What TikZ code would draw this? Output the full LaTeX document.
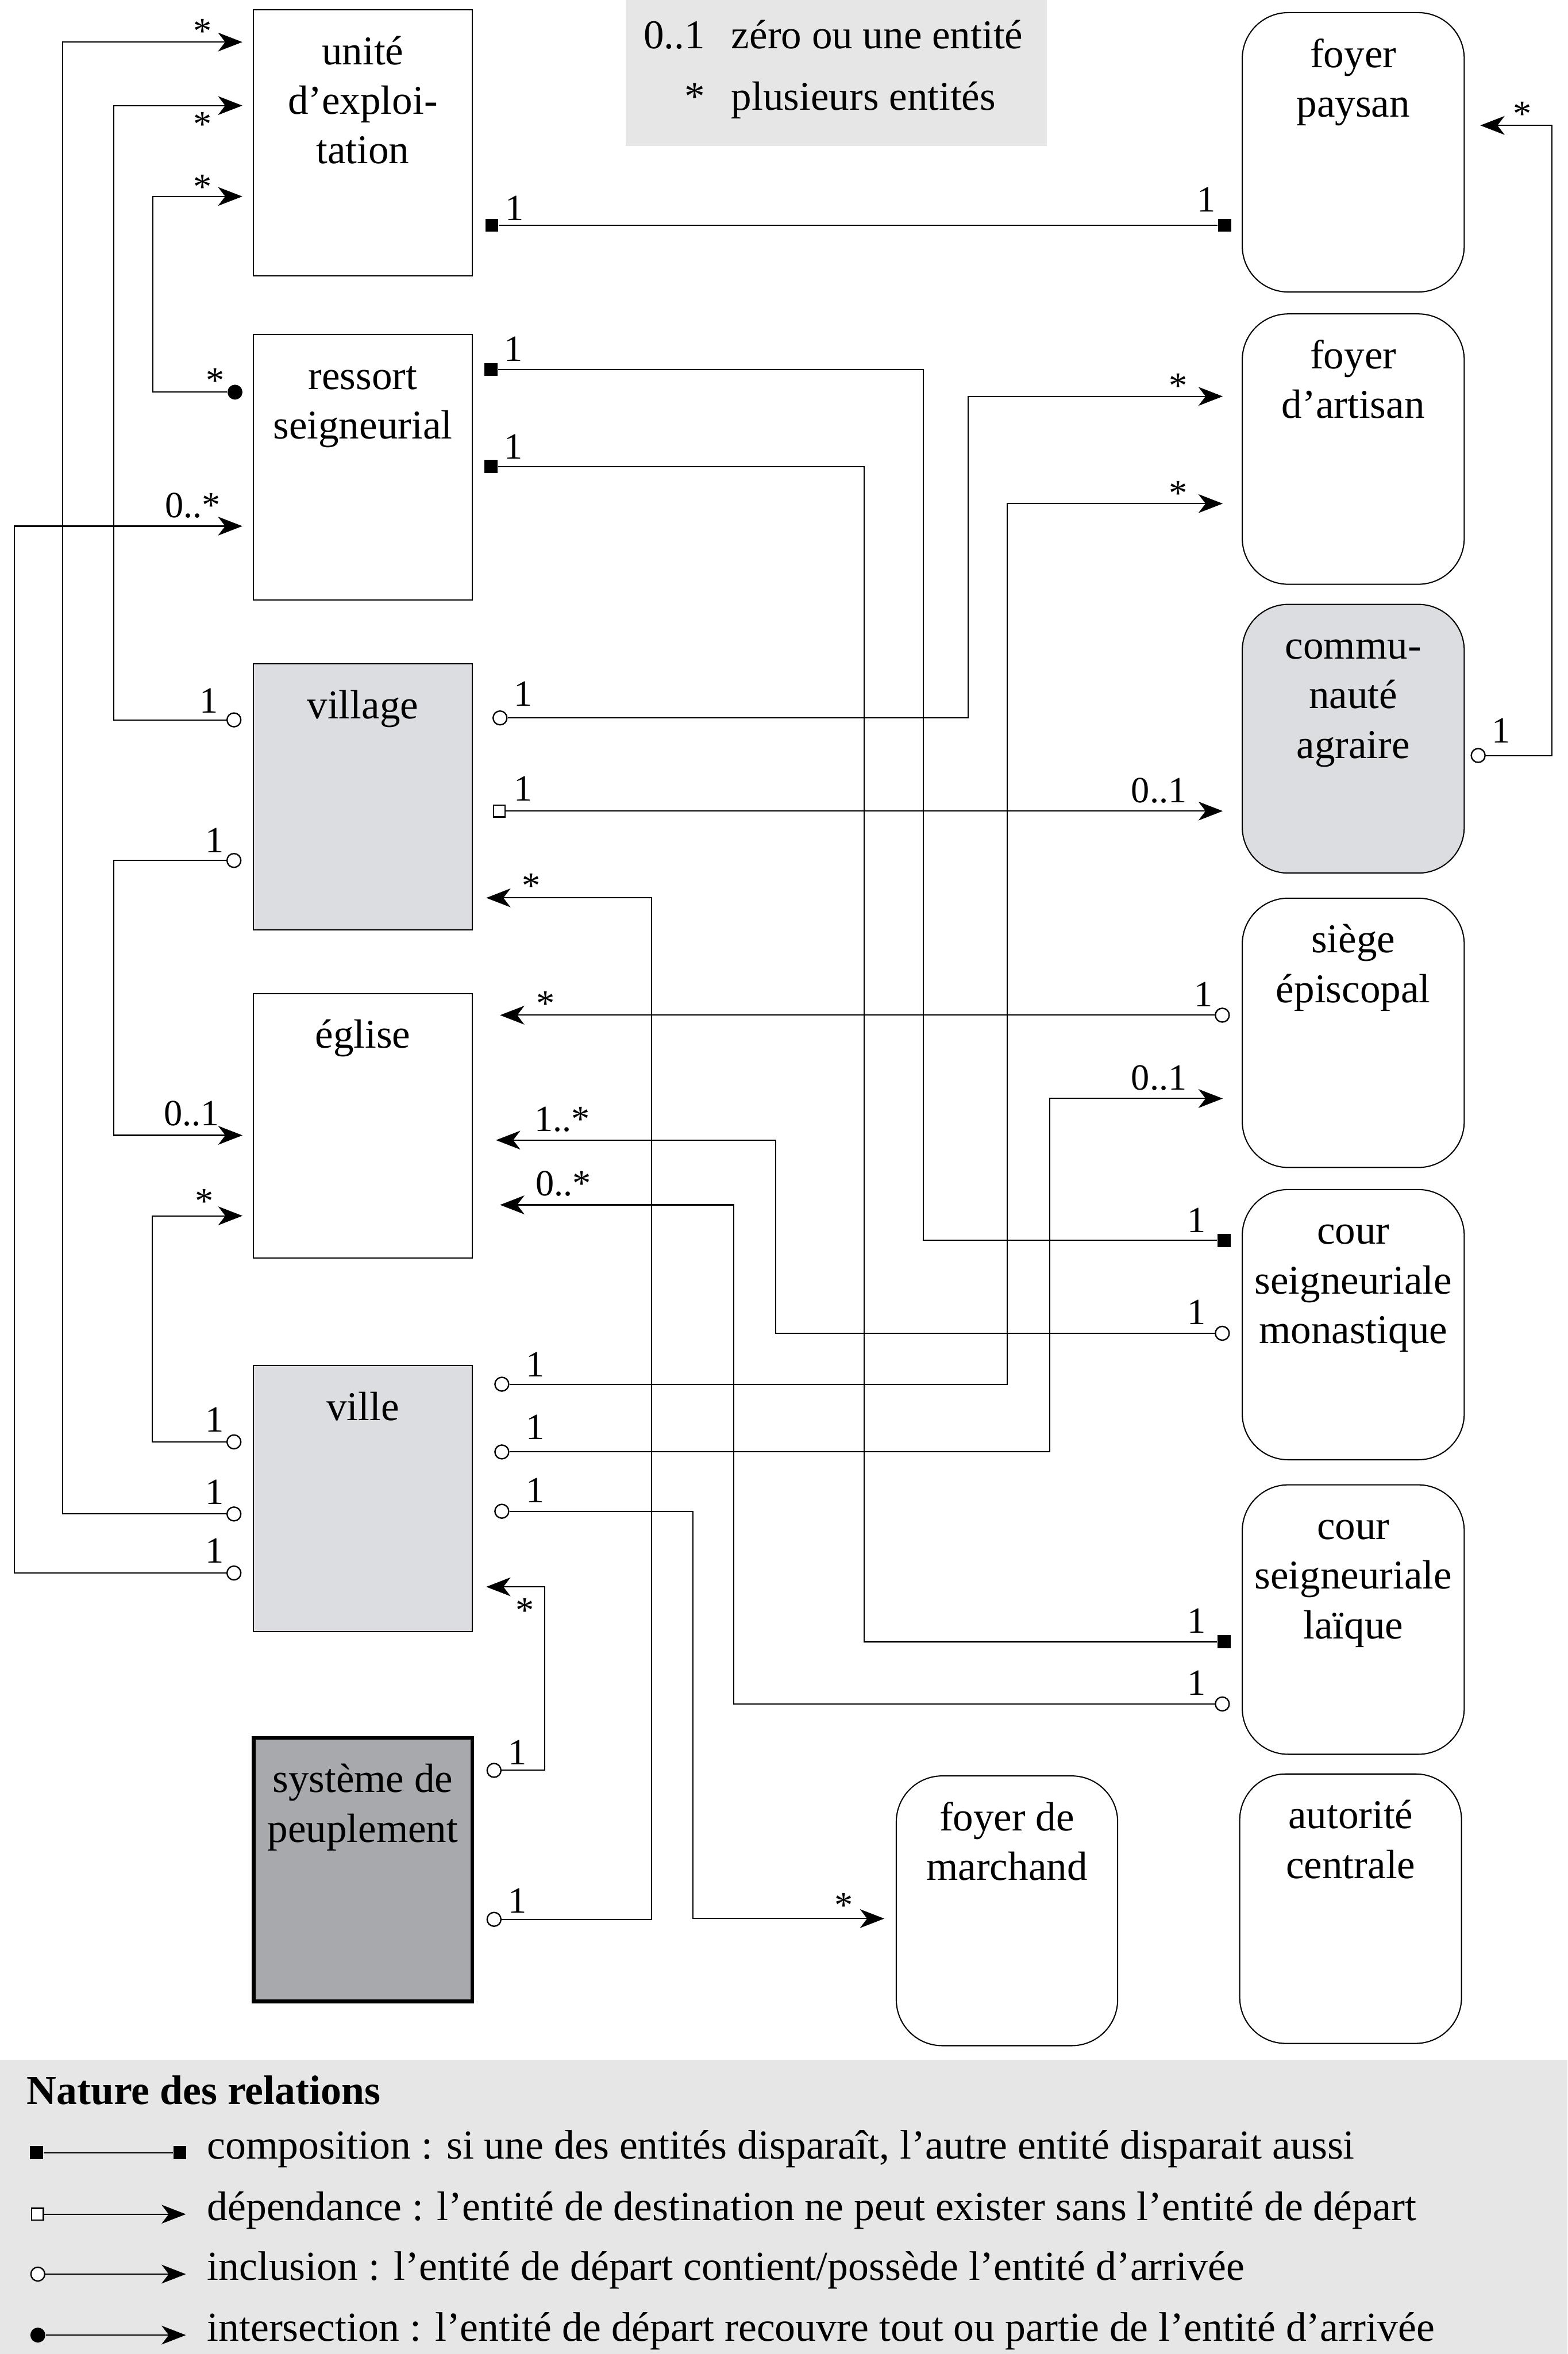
\documentclass[tikz,border=0pt]{standalone}
\usepackage{fontspec}
\setmainfont{Liberation Serif}
\usetikzlibrary{arrows.meta,fit}
\definecolor{lgray}{RGB}{220,221,224}
\definecolor{dgray}{RGB}{167,169,172}
\definecolor{leggray}{RGB}{230,230,230}
\newcommand\bigfont{\fontsize{21}{25.45}\selectfont}
\newcommand\legfont{\fontsize{21.2}{25.45}\selectfont}
\newcommand\labfont{\fontsize{19}{22}\selectfont}
\newcommand\topgap{\rule{0pt}{0.977cm}}
\begin{document}
\begin{tikzpicture}[x=0.027136cm,y=-0.027136cm,
 line width=0.6pt,
 panel/.style={fill=leggray, draw=none, inner sep=0},
 sqbox/.style={draw, line width=0.6pt, inner sep=0},
 rbox/.style={draw, line width=0.6pt, inner sep=0, rounded corners=0.83cm},
 boxtext/.style={font=\bigfont, align=center, anchor=north, inner sep=0},
 lab/.style={font=\labfont, inner sep=0},
 labl/.style={lab, anchor=base east},
 labr/.style={lab, anchor=base west},
 legtxt/.style={font=\legfont, inner sep=0, anchor=base west},
 compsq/.style={rectangle, fill=black, minimum size=0.235cm, inner sep=0},
 depsq/.style={rectangle, draw, fill=white, minimum size=0.21cm, inner sep=0, line width=0.7pt},
 inclc/.style={circle, draw, fill=white, minimum size=0.25cm, inner sep=0, line width=0.7pt},
 interc/.style={circle, fill=black, minimum size=0.27cm, inner sep=0},
 conn/.style={line width=0.6pt},
 arr/.style={conn, -{Stealth[length=0.44cm, width=0.34cm, inset=0.13cm]}},
]
\useasboundingbox (0,0) rectangle (1044,1567.3);

% legend panels
\node[panel, fit={(416.6,0)(697.3,97)}] (keypanel) {};
\node[panel, fit={(0,1371.5)(1044,1567.3)}] (legpanel) {};

% top key
\node[font=\bigfont, inner sep=0, anchor=base east] (k1a) at (469.8,32.2) {0..1};
\node[font=\bigfont, inner sep=0, anchor=base west] (k1b) at (486.7,32.2) {zéro ou une entité};
\node[font=\bigfont, inner sep=0, anchor=base east] (k2a) at (469.8,73.3) {*};
\node[font=\bigfont, inner sep=0, anchor=base west] (k2b) at (486.7,73.3) {plusieurs entités};

% left column boxes
\node[sqbox, fit={(168.6,6.5)(314.6,183.5)}] (unite) {};
\node[sqbox, fit={(168.6,222.8)(314.6,399.4)}] (ressort) {};
\node[sqbox, fill=lgray, fit={(168.6,442)(314.6,619.1)}] (village) {};
\node[sqbox, fit={(168.6,661.4)(314.6,837.6)}] (eglise) {};
\node[sqbox, fill=lgray, fit={(168.6,909.1)(314.6,1086.4)}] (ville) {};
\node[sqbox, fill=dgray, line width=1.9pt, fit={(169,1157)(314.6,1332.5)}] (systeme) {};

\node[boxtext] (unite-t) at (241.6,6.5) {\topgap unité\\d’exploi-\\tation};
\node[boxtext] (ressort-t) at (241.6,222.8) {\topgap ressort\\seigneurial};
\node[boxtext] (village-t) at (241.6,442) {\topgap village};
\node[boxtext] (eglise-t) at (241.6,661.4) {\topgap église};
\node[boxtext] (ville-t) at (241.6,909.1) {\topgap ville};
\node[boxtext] (systeme-t) at (241.6,1157) {\topgap système de\\peuplement};

% right column boxes
\node[rbox, fit={(827.3,8.4)(975.1,194.4)}] (fpaysan) {};
\node[rbox, fit={(827.3,209)(975.1,389)}] (fartisan) {};
\node[rbox, fill=lgray, fit={(827.3,402.4)(975.1,581.3)}] (commu) {};
\node[rbox, fit={(827.3,598)(975.1,777.3)}] (siege) {};
\node[rbox, fit={(827.3,792)(975.1,971.9)}] (monast) {};
\node[rbox, fit={(827.3,988.6)(975.1,1168)}] (laique) {};
\node[rbox, fit={(825.6,1181.1)(973.3,1360.5)}] (autorite) {};
\node[rbox, fit={(596.9,1182.4)(744.3,1362)}] (marchand) {};

\node[boxtext] (fpaysan-t) at (901.2,8.4) {\topgap foyer\\paysan};
\node[boxtext] (fartisan-t) at (901.2,209) {\topgap foyer\\d’artisan};
\node[boxtext] (commu-t) at (901.2,402.4) {\topgap commu-\\nauté\\agraire};
\node[boxtext] (siege-t) at (901.2,598) {\topgap siège\\épiscopal};
\node[boxtext] (monast-t) at (901.2,792) {\topgap cour\\seigneuriale\\monastique};
\node[boxtext] (laique-t) at (901.2,988.6) {\topgap cour\\seigneuriale\\laïque};
\node[boxtext] (autorite-t) at (899.5,1181.1) {\topgap autorité\\centrale};
\node[boxtext] (marchand-t) at (670.6,1182.4) {\topgap foyer de\\marchand};

% markers
\node[interc] (ress_l) at (156.5,261.1) {};
\node[inclc] (vil_l1) at (155.8,479.3) {};
\node[inclc] (vil_l2) at (155.8,572.9) {};
\node[inclc] (vle_l1) at (155.8,960) {};
\node[inclc] (vle_l2) at (155.8,1008) {};
\node[inclc] (vle_l3) at (155.8,1047.3) {};
\node[compsq] (un_r) at (327.5,150) {};
\node[compsq] (ress_r1) at (327,246.1) {};
\node[compsq] (ress_r2) at (327,310.6) {};
\node[inclc] (vil_r) at (333,478) {};
\node[depsq] (vil_rs) at (332.5,540) {};
\node[inclc] (vle_r1) at (334.2,921.6) {};
\node[inclc] (vle_r2) at (334.2,966.7) {};
\node[inclc] (vle_r3) at (334.2,1006.2) {};
\node[inclc] (sys_r1) at (329,1178.7) {};
\node[inclc] (sys_r2) at (329,1277.9) {};
\node[compsq] (fp_l) at (815.5,150) {};
\node[inclc] (ca_r) at (984.4,503) {};
\node[inclc] (se_l) at (814,675.9) {};
\node[compsq] (mo_l) at (815.3,825.9) {};
\node[inclc] (mo_l2) at (814,887.7) {};
\node[compsq] (la_l) at (815.3,1093) {};
\node[inclc] (la_l2) at (814,1134.5) {};

% arrow tip coordinates
\coordinate (t_un1) at (161.4,28);
\coordinate (t_un2) at (161.4,70.3);
\coordinate (t_un3) at (161.4,130.8);
\coordinate (t_res) at (161.4,350.3);
\coordinate (t_eg1) at (161.5,755.9);
\coordinate (t_eg2) at (161.5,809.5);
\coordinate (t_vil) at (323.8,597.8);
\coordinate (t_eg3) at (333,675.9);
\coordinate (t_eg4) at (330.3,759.1);
\coordinate (t_eg5) at (333,802.2);
\coordinate (t_vle) at (323.8,1056.5);
\coordinate (t_fa1) at (814.3,263.9);
\coordinate (t_fa2) at (814.3,335.3);
\coordinate (t_ca) at (814.3,540);
\coordinate (t_se) at (814.3,731.4);
\coordinate (t_fp) at (985.8,83.5);
\coordinate (t_fm) at (588.9,1277.4);

% connectors
\draw[arr] (vle_l2) -- (41.7,1008) -- (41.7,28) -- (t_un1);
\draw[arr] (vil_l1) -- (75.6,479.3) -- (75.6,70.3) -- (t_un2);
\draw[arr] (ress_l) -- (101.8,261.1) -- (101.8,130.8) -- (t_un3);
\draw[arr] (vle_l3) -- (9.5,1047.3) -- (9.5,350.3) -- (t_res);
\draw[arr] (vil_l2) -- (75.6,572.9) -- (75.6,755.9) -- (t_eg1);
\draw[arr] (vle_l1) -- (101.5,960) -- (101.5,809.5) -- (t_eg2);
\draw[conn] (un_r) -- (fp_l);
\draw[conn] (ress_r1) -- (615,246.1) -- (615,825.9) -- (mo_l);
\draw[conn] (ress_r2) -- (575.5,310.6) -- (575.5,1093) -- (la_l);
\draw[arr] (vil_r) -- (644.9,478) -- (644.9,263.9) -- (t_fa1);
\draw[arr] (vil_rs) -- (t_ca);
\draw[arr] (sys_r2) -- (434,1277.9) -- (434,597.8) -- (t_vil);
\draw[arr] (se_l) -- (t_eg3);
\draw[arr] (vle_r2) -- (699.2,966.7) -- (699.2,731.4) -- (t_se);
\draw[arr] (mo_l2) -- (516.6,887.7) -- (516.6,759.1) -- (t_eg4);
\draw[arr] (la_l2) -- (488.6,1134.5) -- (488.6,802.2) -- (t_eg5);
\draw[arr] (vle_r1) -- (670.9,921.6) -- (670.9,335.3) -- (t_fa2);
\draw[arr] (vle_r3) -- (461.6,1006.2) -- (461.6,1277.4) -- (t_fm);
\draw[arr] (sys_r1) -- (362.6,1178.7) -- (362.6,1056.5) -- (t_vle);
\draw[arr] (ca_r) -- (1033.5,503) -- (1033.5,83.5) -- (t_fp);

% multiplicity labels
\node[labl] (m1) at (141.4,29) {*};
\node[labl] (m2) at (141.4,91) {*};
\node[labl] (m3) at (141.4,132.5) {*};
\node[labl] (m4) at (149.7,261.5) {*};
\node[labl] (m5) at (147.2,344.6) {0..*};
\node[labl] (m6) at (145.6,474.5) {1};
\node[labl] (m7) at (149.6,567.5) {1};
\node[labl] (m8) at (146.5,749.4) {0..1};
\node[labl] (m9) at (142.7,808) {*};
\node[labl] (m10) at (149.6,953.5) {1};
\node[labl] (m11) at (149.6,1001.6) {1};
\node[labl] (m12) at (149.6,1040.7) {1};
\node[labr] (m13) at (336,146.7) {1};
\node[labr] (m14) at (335.3,240.5) {1};
\node[labr] (m15) at (335.3,305.7) {1};
\node[labr] (m16) at (341.9,469.9) {1};
\node[labr] (m17) at (341.9,533.3) {1};
\node[labr] (m18) at (347.3,598) {*};
\node[labr] (m19) at (356.9,676.5) {*};
\node[labr] (m20) at (355.6,753.2) {1..*};
\node[labr] (m21) at (356.4,795.9) {0..*};
\node[labr] (m22) at (349.8,916.7) {1};
\node[labr] (m23) at (349.8,958.5) {1};
\node[labr] (m24) at (349.8,1000.5) {1};
\node[labr] (m25) at (343.1,1080.3) {*};
\node[labr] (m26) at (338.1,1174.8) {1};
\node[labr] (m27) at (338.1,1273.6) {1};
\node[labl] (m28) at (810.1,141) {1};
\node[labl] (m29) at (791.1,265) {*};
\node[labl] (m30) at (791.1,336.5) {*};
\node[labl] (m31) at (790.7,534.3) {0..1};
\node[labl] (m32) at (807.9,670) {1};
\node[labl] (m33) at (790.7,725.8) {0..1};
\node[labl] (m34) at (803.5,820.6) {1};
\node[labl] (m35) at (803.5,881.8) {1};
\node[labl] (m36) at (803.5,1087.1) {1};
\node[labl] (m37) at (803.5,1128.6) {1};
\node[labl] (m38) at (568.3,1276.5) {*};
\node[labr] (m39) at (1007.3,83.9) {*};
\node[labr] (m40) at (993.3,494.5) {1};

% bottom legend
\node[legtxt, font=\legfont\bfseries] (lt0) at (17.5,1401) {Nature des relations};
\node[compsq] (lg1a) at (24.4,1433.2) {};
\node[compsq] (lg1b) at (119.8,1433.2) {};
\draw[conn] (lg1a) -- (lg1b);
\node[depsq] (lg2a) at (25,1474.2) {};
\coordinate (lg2b) at (123.8,1474.2);
\draw[arr] (lg2a) -- (lg2b);
\node[inclc] (lg3a) at (25.2,1514.1) {};
\coordinate (lg3b) at (123.8,1514.1);
\draw[arr] (lg3a) -- (lg3b);
\node[interc] (lg4a) at (25.2,1554.7) {};
\coordinate (lg4b) at (123.8,1554.7);
\draw[arr] (lg4a) -- (lg4b);
\node[legtxt] (lt1) at (137.5,1437.2) {composition : si une des entités disparaît, l’autre entité disparait aussi};
\node[legtxt] (lt2) at (137.5,1478.2) {dépendance : l’entité de destination ne peut exister sans l’entité de départ};
\node[legtxt] (lt3) at (137.5,1518.2) {inclusion : l’entité de départ contient/possède l’entité d’arrivée};
\node[legtxt] (lt4) at (137.5,1558.5) {intersection : l’entité de départ recouvre tout ou partie de l’entité d’arrivée};
\end{tikzpicture}
\end{document}
